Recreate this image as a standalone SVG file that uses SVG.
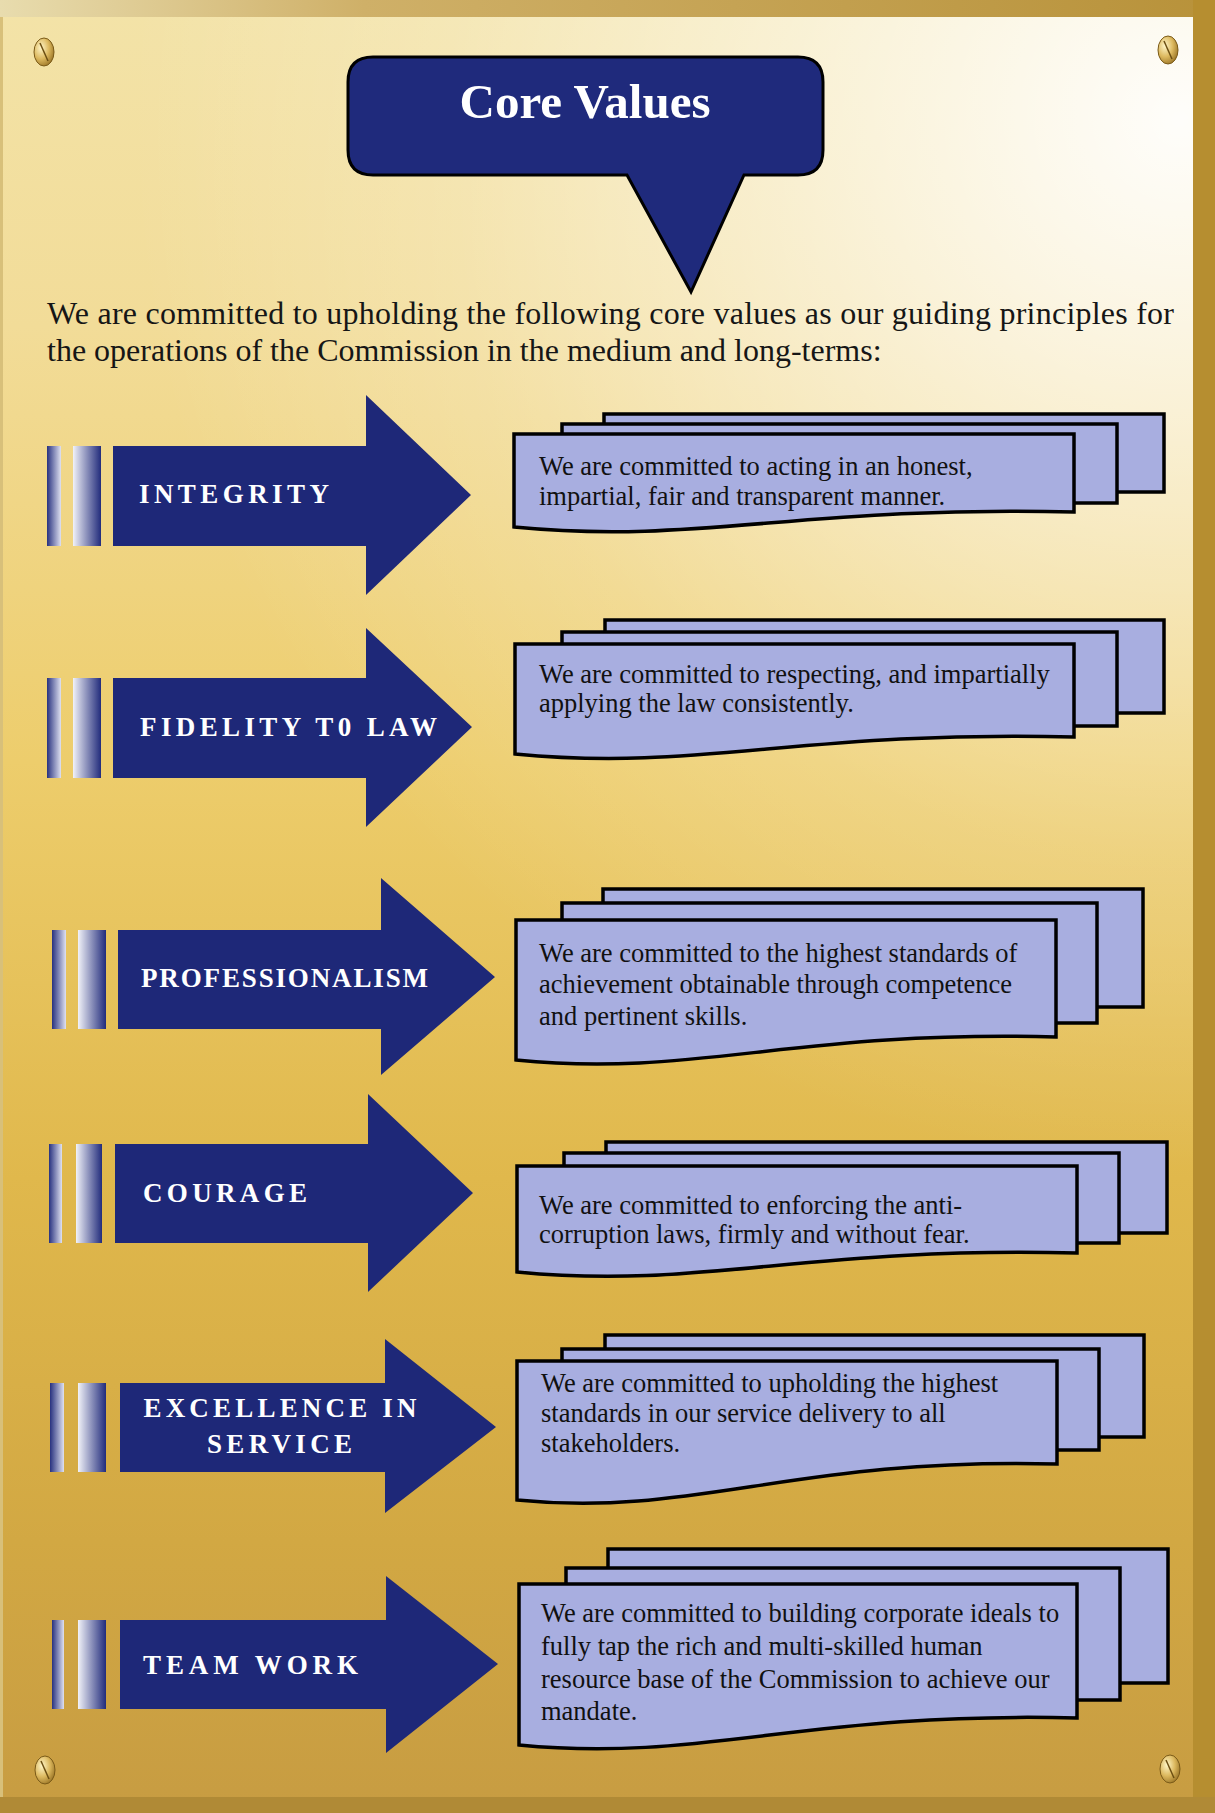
<svg xmlns="http://www.w3.org/2000/svg" width="1215" height="1813" viewBox="0 0 1215 1813">
<defs>
<linearGradient id="plate" x1="0" y1="0" x2="0" y2="1">
<stop offset="0" stop-color="#f3e3a8"/>
<stop offset="0.18" stop-color="#f2dc98"/>
<stop offset="0.42" stop-color="#edcd6c"/>
<stop offset="0.65" stop-color="#e0b84c"/>
<stop offset="0.85" stop-color="#d2a843"/>
<stop offset="1" stop-color="#c79c42"/>
</linearGradient>
<radialGradient id="sheen" gradientUnits="userSpaceOnUse" cx="1180" cy="120" r="1050" fx="1180" fy="120">
<stop offset="0" stop-color="#ffffff" stop-opacity="0.95"/>
<stop offset="0.35" stop-color="#ffffff" stop-opacity="0.55"/>
<stop offset="0.7" stop-color="#ffffff" stop-opacity="0.18"/>
<stop offset="1" stop-color="#ffffff" stop-opacity="0"/>
</radialGradient>
<linearGradient id="topband" x1="0" y1="0" x2="1" y2="0">
<stop offset="0" stop-color="#e8dcae"/>
<stop offset="0.3" stop-color="#cfb068"/>
<stop offset="1" stop-color="#b8923a"/>
</linearGradient>
<linearGradient id="bar1" x1="0" y1="0" x2="1" y2="0">
<stop offset="0" stop-color="#27317f"/>
<stop offset="1" stop-color="#dfe1f0"/>
</linearGradient>
<linearGradient id="bar2" x1="0" y1="0" x2="1" y2="0">
<stop offset="0" stop-color="#f1f2f8"/>
<stop offset="1" stop-color="#222c7c"/>
</linearGradient>
<radialGradient id="screw" cx="0.35" cy="0.35" r="0.8">
<stop offset="0" stop-color="#fff6c8"/>
<stop offset="0.5" stop-color="#dcb85e"/>
<stop offset="1" stop-color="#8a6418"/>
</radialGradient>
<style>
.arrow{fill:#1e2878}
.b1{fill:url(#bar1)}
.b2{fill:url(#bar2)}
.lbl{font-family:"Liberation Serif","Times New Roman",serif;font-weight:bold;font-size:27px;fill:#ffffff}
.sheet{fill:#a8aee0;stroke:#000;stroke-width:3.5;stroke-linejoin:miter}
.desc{font-family:"Liberation Serif","Times New Roman",serif;font-size:26.5px;fill:#111}
.intro{font-family:"Liberation Serif","Times New Roman",serif;font-size:32px;fill:#161616}
.scr{fill:url(#screw);stroke:#7a5a18;stroke-width:1}
.slot{stroke:#6b4e12;stroke-width:1.5;fill:none}
</style>
</defs>

<g id="background">
<rect x="0" y="0" width="1215" height="1813" fill="url(#plate)"/>
<rect x="0" y="0" width="1215" height="1813" fill="url(#sheen)"/>
<rect x="0" y="0" width="1215" height="17" fill="url(#topband)"/>
<rect x="1193" y="0" width="22" height="1813" fill="#b68e30"/>
<rect x="0" y="1797" width="1215" height="16" fill="#b08a36"/>
<rect x="0" y="17" width="3" height="1780" fill="#d8c07a"/>
</g>

<g id="screws">
<g id="screw-tl"><ellipse class="scr" cx="44" cy="52" rx="10" ry="14"/><line class="slot" x1="40" y1="43" x2="48" y2="61"/></g>
<g id="screw-tr"><ellipse class="scr" cx="1168" cy="50" rx="10" ry="14"/><line class="slot" x1="1164" y1="41" x2="1172" y2="59"/></g>
<g id="screw-bl"><ellipse class="scr" cx="45" cy="1770" rx="10" ry="14"/><line class="slot" x1="41" y1="1761" x2="49" y2="1779"/></g>
<g id="screw-br"><ellipse class="scr" cx="1170" cy="1769" rx="10" ry="14"/><line class="slot" x1="1166" y1="1760" x2="1174" y2="1778"/></g>
</g>

<g id="title">
<path d="M373,57 H798 Q823,57 823,82 V150 Q823,175 798,175 H744 L691,292 L627,175 H373 Q348,175 348,150 V82 Q348,57 373,57 Z" fill="#1f2a7c" stroke="#000" stroke-width="3"/>
<text x="585" y="118" text-anchor="middle" font-family="'Liberation Serif','Times New Roman',serif" font-weight="bold" font-size="49" fill="#ffffff">Core Values</text>
</g>

<g id="intro">
<text class="intro" x="47" y="324" textLength="1127" lengthAdjust="spacing">We are committed to upholding the following core values as our guiding principles for</text>
<text class="intro" x="47" y="361">the operations of the Commission in the medium and long-terms:</text>
</g>

<g id="connectors"></g>

<g id="integrity">
<rect class="b1" x="47" y="446" width="14" height="100"/>
<rect class="b2" x="73" y="446" width="28" height="100"/>
<path class="arrow" d="M113,446 H366 V395 L471,495 L366,595 V546 H113 Z"/>
<text class="lbl" x="139" y="503" textLength="190" lengthAdjust="spacing">INTEGRITY</text>
</g>
<g id="integrity-desc">
<rect class="sheet" x="604" y="414" width="560" height="78"/>
<rect class="sheet" x="562" y="424" width="555" height="79"/>
<path class="sheet" d="M514,434 H1074 V512 C800,505 700,545 514,527 Z"/>
<text class="desc" x="539" y="475">We are committed to acting in an honest,</text>
<text class="desc" x="539" y="505">impartial, fair and transparent manner.</text>
</g>

<g id="fidelity">
<rect class="b1" x="47" y="678" width="14" height="100"/>
<rect class="b2" x="73" y="678" width="28" height="100"/>
<path class="arrow" d="M113,678 H366 V628 L472,727 L366,827 V778 H113 Z"/>
<text class="lbl" x="140" y="736" textLength="297" lengthAdjust="spacing">FIDELITY T0 LAW</text>
</g>
<g id="fidelity-desc">
<rect class="sheet" x="605" y="620" width="559" height="93"/>
<rect class="sheet" x="562" y="632" width="555" height="94"/>
<path class="sheet" d="M515,644 H1074 V737 C800,730 700,772 515,754 Z"/>
<text class="desc" x="539" y="683">We are committed to respecting, and impartially</text>
<text class="desc" x="539" y="712">applying the law consistently.</text>
</g>

<g id="professionalism">
<rect class="b1" x="52" y="930" width="14" height="99"/>
<rect class="b2" x="78" y="930" width="28" height="99"/>
<path class="arrow" d="M118,930 H381 V878 L495,977 L381,1075 V1029 H118 Z"/>
<text class="lbl" x="141" y="987" textLength="287" lengthAdjust="spacing">PROFESSIONALISM</text>
</g>
<g id="professionalism-desc">
<rect class="sheet" x="603" y="889" width="540" height="118"/>
<rect class="sheet" x="562" y="903" width="535" height="120"/>
<path class="sheet" d="M516,920 H1056 V1037 C792,1030 694,1078 516,1060 Z"/>
<text class="desc" x="539" y="962">We are committed to the highest standards of</text>
<text class="desc" x="539" y="993">achievement obtainable through competence</text>
<text class="desc" x="539" y="1025">and pertinent skills.</text>
</g>

<g id="courage">
<rect class="b1" x="49" y="1144" width="13" height="99"/>
<rect class="b2" x="76" y="1144" width="26" height="99"/>
<path class="arrow" d="M115,1144 H368 V1094 L473,1193 L368,1292 V1243 H115 Z"/>
<text class="lbl" x="143" y="1202" textLength="164" lengthAdjust="spacing">COURAGE</text>
</g>
<g id="courage-desc">
<rect class="sheet" x="606" y="1142" width="561" height="91"/>
<rect class="sheet" x="564" y="1153" width="555" height="90"/>
<path class="sheet" d="M517,1166 H1077 V1253 C803,1246 703,1290 517,1272 Z"/>
<text class="desc" x="539" y="1214">We are committed to enforcing the anti-</text>
<text class="desc" x="539" y="1243">corruption laws, firmly and without fear.</text>
</g>

<g id="excellence">
<rect class="b1" x="50" y="1383" width="14" height="89"/>
<rect class="b2" x="78" y="1383" width="28" height="89"/>
<path class="arrow" d="M120,1383 H385 V1339 L496,1427 L385,1513 V1472 H120 Z"/>
<text class="lbl" x="143.5" y="1417" font-size="26" textLength="273" lengthAdjust="spacing">EXCELLENCE IN</text>
<text class="lbl" x="207" y="1453" font-size="26" textLength="145" lengthAdjust="spacing">SERVICE</text>
</g>
<g id="excellence-desc">
<rect class="sheet" x="605" y="1335" width="539" height="102"/>
<rect class="sheet" x="562" y="1349" width="537" height="101"/>
<path class="sheet" d="M517,1361 H1057 V1464 C793,1457 695,1518 517,1500 Z"/>
<text class="desc" x="541" y="1392">We are committed to upholding the highest</text>
<text class="desc" x="541" y="1422">standards in our service delivery to all</text>
<text class="desc" x="541" y="1452">stakeholders.</text>
</g>

<g id="teamwork">
<rect class="b1" x="52" y="1620" width="12" height="89"/>
<rect class="b2" x="78" y="1620" width="28" height="89"/>
<path class="arrow" d="M120,1620 H386 V1576 L498,1664 L386,1753 V1709 H120 Z"/>
<text class="lbl" x="143" y="1674" textLength="215" lengthAdjust="spacing">TEAM WORK</text>
</g>
<g id="teamwork-desc">
<rect class="sheet" x="608" y="1549" width="560" height="134"/>
<rect class="sheet" x="566" y="1568" width="554" height="132"/>
<path class="sheet" d="M519,1584 H1077 V1718 C804,1711 703,1763 519,1745 Z"/>
<text class="desc" x="541" y="1622">We are committed to building corporate ideals to</text>
<text class="desc" x="541" y="1655">fully tap the rich and multi-skilled human</text>
<text class="desc" x="541" y="1688">resource base of the Commission to achieve our</text>
<text class="desc" x="541" y="1720">mandate.</text>
</g>
</svg>
